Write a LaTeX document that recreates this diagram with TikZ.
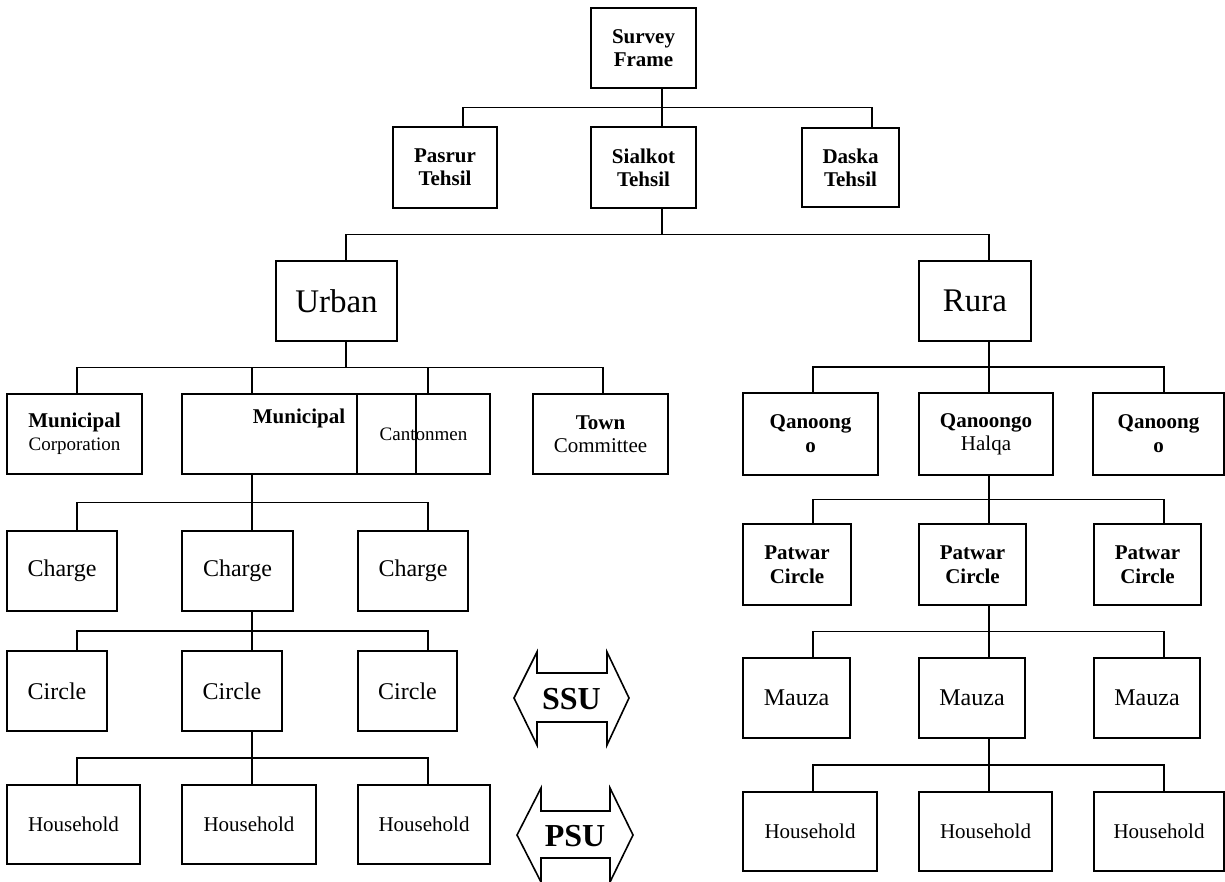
\documentclass[tikz,border=0pt]{standalone}
\usepackage{fontspec}
\setmainfont{Liberation Serif}
\usetikzlibrary{calc}
\begin{document}
\begin{tikzpicture}[x=1pt,y=-1pt,
  box/.style={draw, line width=1.6pt, rectangle, inner sep=0pt, align=center},
  bl/.style={font=\fontsize{21}{23}\selectfont\bfseries},
  bl24/.style={font=\fontsize{21}{24}\selectfont\bfseries},
  rg/.style={font=\fontsize{21}{23}\selectfont},
  big/.style={font=\fontsize{33}{36}\selectfont},
  mid/.style={font=\fontsize{24}{26}\selectfont},
  conn/.style={line width=1.6pt},
  heavy/.style={line width=2.8pt},
  arrowtxt/.style={font=\fontsize{32}{34}\selectfont\bfseries, inner sep=0pt}
]
\useasboundingbox (0,0) rectangle (1225,881);

% ---- level 1/2
\node[box,bl,minimum width=105pt,minimum height=80pt] (sf) at (643.5,48) {Survey\\Frame};
\node[box,bl,minimum width=104pt,minimum height=81pt] (pas) at (445,167.5) {Pasrur\\Tehsil};
\node[box,bl,minimum width=105pt,minimum height=81pt] (sia) at (643.5,167.5) {Sialkot\\Tehsil};
\node[box,bl,minimum width=97pt,minimum height=79pt] (das) at (850.5,167.5) {Daska\\Tehsil};

% ---- urban / rural
\node[box,big,minimum width=121pt,minimum height=80pt] (urb) at (336.5,301) {Urban};
\node[box,big,minimum width=112pt,minimum height=80pt] (rur) at (975,301) {Rura};

% ---- urban children
\node[box,rg,minimum width=135pt,minimum height=80pt] (mc) at (74.5,434) {\textbf{Municipal}\\{\fontsize{19}{22}\selectfont Corporation}};
\node[box,rg,minimum width=234pt,minimum height=80pt] (mun) at (299,434) {\textbf{Municipal}\\[12pt]\mbox{}};
\node[box,font=\fontsize{19}{22}\selectfont,minimum width=133pt,minimum height=80pt] (can) at (423.5,434) {Cantonmen};
\node[box,rg,minimum width=135pt,minimum height=80pt] (town) at (600.5,434) {\textbf{Town}\\Committee};

% ---- rural children
\node[box,bl24,minimum width=135pt,minimum height=82pt] (q1) at (810.5,434) {Qanoong\\o};
\node[box,rg,minimum width=134pt,minimum height=82pt] (q2) at (986,434) {\textbf{Qanoongo}\\Halqa};
\node[box,bl24,minimum width=131pt,minimum height=82pt] (q3) at (1158.5,434) {Qanoong\\o};

% ---- charges
\node[box,mid,minimum width=110pt,minimum height=80pt] (ch1) at (62,571) {Charge};
\node[box,mid,minimum width=111pt,minimum height=80pt] (ch2) at (237.5,571) {Charge};
\node[box,mid,minimum width=110pt,minimum height=80pt] (ch3) at (413,571) {Charge};

% ---- circles
\node[box,mid,minimum width=100pt,minimum height=80pt] (ci1) at (57,691) {Circle};
\node[box,mid,minimum width=100pt,minimum height=80pt] (ci2) at (232,691) {Circle};
\node[box,mid,minimum width=99pt,minimum height=80pt] (ci3) at (407.5,691) {Circle};

% ---- urban households
\node[box,rg,minimum width=133pt,minimum height=79pt] (h1) at (73.5,824.5) {Household};
\node[box,rg,minimum width=134pt,minimum height=79pt] (h2) at (249,824.5) {Household};
\node[box,rg,minimum width=132pt,minimum height=79pt] (h3) at (424,824.5) {Household};

% ---- patwar circles
\node[box,bl24,minimum width=108pt,minimum height=81pt] (p1) at (797,564.5) {Patwar\\Circle};
\node[box,bl24,minimum width=107pt,minimum height=81pt] (p2) at (972.5,564.5) {Patwar\\Circle};
\node[box,bl24,minimum width=107pt,minimum height=81pt] (p3) at (1147.5,564.5) {Patwar\\Circle};

% ---- mauza
\node[box,mid,minimum width=107pt,minimum height=80pt] (m1) at (796.5,698) {Mauza};
\node[box,mid,minimum width=106pt,minimum height=80pt] (m2) at (972,698) {Mauza};
\node[box,mid,minimum width=106pt,minimum height=80pt] (m3) at (1147,698) {Mauza};

% ---- rural households
\node[box,rg,minimum width=134pt,minimum height=79pt] (r1) at (810,831.5) {Household};
\node[box,rg,minimum width=133pt,minimum height=79pt] (r2) at (985.5,831.5) {Household};
\node[box,rg,minimum width=130pt,minimum height=79pt] (r3) at (1159,831.5) {Household};

% ---- connectors
% group 1
\coordinate (j1) at ($([xshift=18.5pt]sf.south)!0.5!([xshift=18.5pt]sia.north)$);
\draw[conn] ([xshift=18.5pt]sf.south) -- ([xshift=18.5pt]sia.north);
\draw[conn] ([xshift=18pt]pas.north) |- (j1) -| ([xshift=21.5pt]das.north);
% group 2
\coordinate (j2) at ($([xshift=18.5pt]sia.south)!0.5!([xshift=18.5pt]sia.south |- urb.north)$);
\draw[conn] ([xshift=18.5pt]sia.south) -- (j2);
\draw[conn] ([xshift=9.5pt]urb.north) |- (j2) -| ([xshift=14pt]rur.north);
% group 3
\coordinate (j3) at ($([xshift=9.5pt]urb.south)!0.5!([xshift=9.5pt]urb.south |- mc.north)$);
\draw[conn] ([xshift=9.5pt]urb.south) -- (j3);
\draw[conn] ([xshift=2.5pt]mc.north) |- (j3) -| ([xshift=2.5pt]town.north);
\draw[conn] ([xshift=-47pt]mun.north) -- ([xshift=-47pt]mun.north |- j3);
\draw[conn] ([xshift=4.5pt]can.north) -- ([xshift=4.5pt]can.north |- j3);
% group 4
\coordinate (j4) at ($([xshift=14pt]rur.south)!0.5!([xshift=14pt]rur.south |- q1.north)$);
\draw[conn] ([xshift=14pt]rur.south) -- ([xshift=3pt]q2.north);
\draw[conn] ([xshift=2.5pt]q1.north) |- (j4) -| ([xshift=5.5pt]q3.north);
% group 5
\coordinate (j5) at ($([xshift=-47pt]mun.south)!0.5!([xshift=-47pt]mun.south |- ch1.north)$);
\draw[heavy] ([xshift=-47pt]mun.south) -- (j5);
\draw[conn] (j5) -- ([xshift=14.5pt]ch2.north);
\draw[conn] ([xshift=15pt]ch1.north) |- (j5) -| ([xshift=15pt]ch3.north);
% group 6
\coordinate (j6) at ($([xshift=14.5pt]ch2.south)!0.5!([xshift=14.5pt]ch2.south |- ci1.north)$);
\draw[heavy] ([xshift=14.5pt]ch2.south) -- (j6);
\draw[conn] (j6) -- ([xshift=20pt]ci2.north);
\draw[conn] ([xshift=20pt]ci1.north) |- (j6) -| ([xshift=20.5pt]ci3.north);
% group 7
\coordinate (j7) at ($([xshift=20pt]ci2.south)!0.5!([xshift=20pt]ci2.south |- h1.north)$);
\draw[heavy] ([xshift=20pt]ci2.south) -- (j7);
\draw[conn] (j7) -- ([xshift=3pt]h2.north);
\draw[conn] ([xshift=3.5pt]h1.north) |- (j7) -| ([xshift=4pt]h3.north);
% group 8
\coordinate (j8) at ($([xshift=3pt]q2.south)!0.5!([xshift=3pt]q2.south |- p1.north)$);
\draw[conn] ([xshift=3pt]q2.south) -- ([xshift=16.5pt]p2.north);
\draw[conn] ([xshift=16pt]p1.north) |- (j8) -| ([xshift=16.5pt]p3.north);
% group 9
\coordinate (j9) at ($([xshift=16.5pt]p2.south)!0.5!([xshift=16.5pt]p2.south |- m1.north)$);
\draw[conn] ([xshift=16.5pt]p2.south) -- ([xshift=17pt]m2.north);
\draw[conn] ([xshift=16.5pt]m1.north) |- (j9) -| ([xshift=17pt]m3.north);
% group 10
\coordinate (j10) at ($([xshift=17pt]m2.south)!0.5!([xshift=17pt]m2.south |- r1.north)$);
\draw[conn] ([xshift=17pt]m2.south) -- ([xshift=3.5pt]r2.north);
\draw[conn] ([xshift=3pt]r1.north) |- (j10) -| ([xshift=5pt]r3.north);

% ---- SSU / PSU double arrows
\node[arrowtxt] (ssu) at (571.5,699) {SSU};
\draw[conn] ($(ssu)+(-57.5,-1)$) -- ++(23,-46) -- ++(0,21) -- ++(70,0) -- ++(0,-21)
  -- ++(22,46) -- ++(-22,47) -- ++(0,-23) -- ++(-70,0) -- ++(0,23) -- cycle;
\node[arrowtxt] (psu) at (575,836) {PSU};
\draw[conn] ($(psu)+(-58,-1)$) -- ++(24,-47) -- ++(0,23) -- ++(69,0) -- ++(0,-23)
  -- ++(23,47) -- ++(-23,47) -- ++(0,-24) -- ++(-69,0) -- ++(0,24) -- cycle;
\end{tikzpicture}
\end{document}
